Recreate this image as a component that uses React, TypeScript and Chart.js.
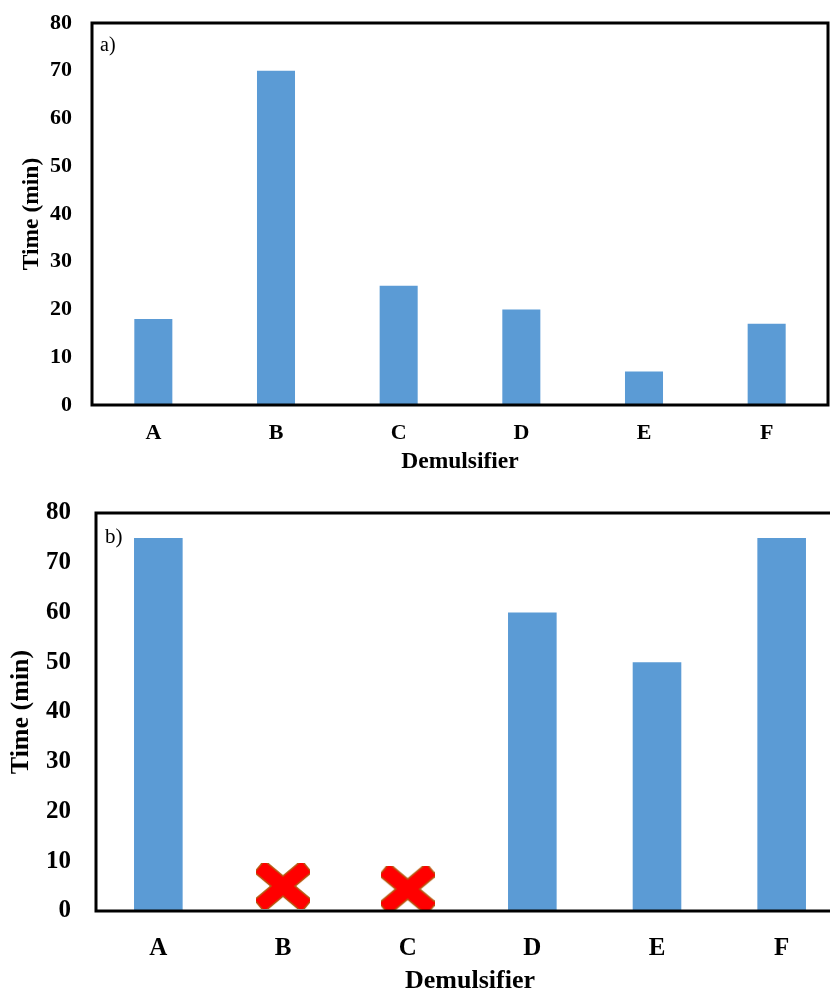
import React, { useEffect, useRef } from "react";
import { Chart, registerables } from "chart.js";
Chart.register(...registerables);

const categories = ["A", "B", "C", "D", "E", "F"];
const timeA = [18, 70, 25, 20, 7, 17];
const timeB = [75, null, null, 60, 50, 75];
const failedB = [null, 5, 4.4, null, null, null];
const yMin = 0;
const yMax = 80;
const yStep = 10;
const xTitle = "Demulsifier";
const yTitle = "Time (min)";

const BAR = "#5b9bd5";
const SERIF = '"Liberation Serif", "Times New Roman", serif';

function makeCross(): HTMLCanvasElement {
  const c = document.createElement("canvas");
  c.width = 54;
  c.height = 46;
  const ctx = c.getContext("2d")!;
  ctx.translate(27, 23);
  const ang = Math.atan2(40, 48);
  const len = 60;
  const th = 14;
  const rects = [ang, -ang];
  ctx.lineJoin = "miter";
  ctx.strokeStyle = "#b8570f";
  ctx.lineWidth = 3;
  for (const a of rects) {
    ctx.save();
    ctx.rotate(a);
    ctx.strokeRect(-len / 2, -th / 2, len, th);
    ctx.restore();
  }
  ctx.fillStyle = "#ff0000";
  for (const a of rects) {
    ctx.save();
    ctx.rotate(a);
    ctx.fillRect(-len / 2, -th / 2, len, th);
    ctx.restore();
  }
  return c;
}

type PanelProps = {
  label: string;
  values: (number | null)[];
  failed?: (number | null)[];
  width: number;
  height: number;
  top: number;
  tickSize: number;
  titleSize: number;
  yAxisWidth: number;
  xAxisHeight: number;
  xTickLen: number;
  xTitlePad: number;
  yTickLen: number;
  yTitlePad: number;
  barPct: number;
  labelDx: number;
  labelDy: number;
  labelSize: number;
};

function Panel(p: PanelProps) {
  const ref = useRef<HTMLCanvasElement>(null);
  useEffect(() => {
    if (!ref.current) return;
    const tickFont = { family: SERIF, size: p.tickSize, weight: "bold" as const };
    const titleFont = { family: SERIF, size: p.titleSize, weight: "bold" as const };
    const boxPlugin = {
      id: "box",
      afterDatasetsDraw(chart: any) {
        const { ctx, chartArea } = chart;
        const { left, top, right, bottom } = chartArea;
        ctx.save();
        ctx.strokeStyle = "#000";
        ctx.lineWidth = 3;
        ctx.strokeRect(left, top, right - left, bottom - top);
        ctx.fillStyle = "#000";
        ctx.font = `${p.labelSize}px ${SERIF}`;
        ctx.textBaseline = "middle";
        ctx.textAlign = "left";
        ctx.fillText(p.label, left + p.labelDx, top + p.labelDy);
        ctx.restore();
      },
    };
    const datasets: any[] = [
      {
        type: "bar",
        data: p.values,
        backgroundColor: BAR,
        borderWidth: 0,
        categoryPercentage: 1,
        barPercentage: p.barPct,
        order: 1,
      },
    ];
    if (p.failed) {
      datasets.push({
        type: "line",
        data: p.failed,
        showLine: false,
        pointStyle: makeCross(),
        pointRadius: 20,
        order: 0,
        clip: false,
      });
    }
    const hiddenGrid = (len: number) => ({
      display: true,
      drawOnChartArea: false,
      drawTicks: true,
      tickLength: len,
      color: "rgba(0,0,0,0)",
      tickColor: "rgba(0,0,0,0)",
    });
    const chart = new Chart(ref.current, {
      type: "bar",
      data: { labels: categories, datasets },
      plugins: [boxPlugin],
      options: {
        responsive: false,
        animation: false,
        devicePixelRatio: 1,
        layout: { autoPadding: false, padding: { top: 23, right: 2, left: 0, bottom: 0 } },
        plugins: { legend: { display: false }, tooltip: { enabled: false } },
        scales: {
          x: {
            grid: hiddenGrid(p.xTickLen),
            border: { display: false },
            ticks: { font: tickFont, color: "#000", padding: 0 },
            title: {
              display: true,
              text: xTitle,
              font: titleFont,
              color: "#000",
              padding: { top: 0, bottom: p.xTitlePad },
            },
            afterFit: (s: any) => {
              s.height = p.xAxisHeight;
            },
          },
          y: {
            min: yMin,
            max: yMax,
            grid: hiddenGrid(p.yTickLen),
            border: { display: false },
            ticks: { stepSize: yStep, font: tickFont, color: "#000", padding: 0 },
            title: {
              display: true,
              text: yTitle,
              font: titleFont,
              color: "#000",
              padding: { top: p.yTitlePad, bottom: 0 },
            },
            afterFit: (s: any) => {
              s.width = p.yAxisWidth;
            },
          },
        },
      } as any,
    });
    return () => chart.destroy();
  }, []);
  return (
    <canvas
      ref={ref}
      width={p.width}
      height={p.height}
      style={{ position: "absolute", left: 0, top: p.top, width: p.width, height: p.height }}
    />
  );
}

export default function App() {
  return (
    <div
      style={{
        position: "fixed",
        left: 0,
        top: 0,
        width: 830,
        height: 990,
        overflow: "hidden",
        background: "#fff",
      }}
    >
      <Panel
        label="a)"
        values={timeA}
        width={830}
        height={490}
        top={0}
        tickSize={22}
        titleSize={23.5}
        yAxisWidth={92}
        xAxisHeight={85}
        xTickLen={15}
        xTitlePad={14}
        yTickLen={20}
        yTitlePad={18}
        barPct={0.31}
        labelDx={8}
        labelDy={23}
        labelSize={20}
      />
      <Panel
        label="b)"
        values={timeB}
        failed={failedB}
        width={846}
        height={510}
        top={490}
        tickSize={25}
        titleSize={26}
        yAxisWidth={96}
        xAxisHeight={89}
        xTickLen={23}
        xTitlePad={3}
        yTickLen={25}
        yTitlePad={6}
        barPct={0.39}
        labelDx={9}
        labelDy={24}
        labelSize={21}
      />
    </div>
  );
}
